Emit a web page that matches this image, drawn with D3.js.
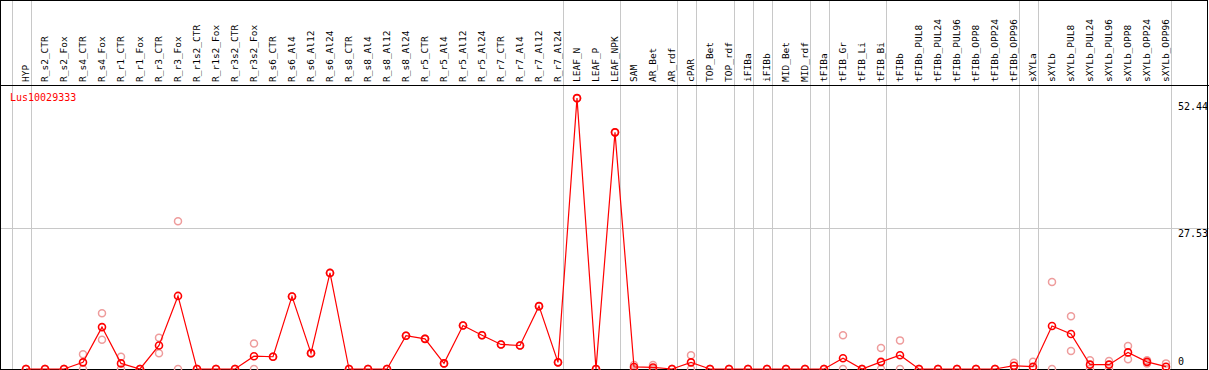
<!DOCTYPE html>
<html>
<head>
  <meta charset="utf-8">
  <title>Lus10029333</title>
  <style>
    body { margin: 0; background: #fff; }
    text { font-family: "DejaVu Sans Mono", monospace; }
  </style>
</head>
<body>

  <script src="https://cdn.jsdelivr.net/npm/d3@7"></script>
  <script type="text/javascript">

  var gene = 'Lus10029333';

  var samples = [
    'HYP',
    'R_s2_CTR', 'R_s2_Fox', 'R_s4_CTR', 'R_s4_Fox', 'R_r1_CTR', 'R_r1_Fox', 'R_r3_CTR', 'R_r3_Fox',
    'R_r1s2_CTR', 'R_r1s2_Fox', 'R_r3s2_CTR', 'R_r3s2_Fox',
    'R_s6_CTR', 'R_s6_Al4', 'R_s6_Al12', 'R_s6_Al24', 'R_s8_CTR', 'R_s8_Al4', 'R_s8_Al12', 'R_s8_Al24',
    'R_r5_CTR', 'R_r5_Al4', 'R_r5_Al12', 'R_r5_Al24', 'R_r7_CTR', 'R_r7_Al4', 'R_r7_Al12', 'R_r7_Al24',
    'LEAF_N', 'LEAF_P', 'LEAF_NPK',
    'SAM', 'AR_Bet', 'AR_rdf',
    'cPAR',
    'TOP_Bet', 'TOP_rdf',
    'iFIBa',
    'iFIBb',
    'MID_Bet', 'MID_rdf',
    'tFIBa',
    'tFIB_Gr', 'tFIB_Li', 'tFIB_Bi',
    'tFIBb', 'tFIBb_PUL8', 'tFIBb_PUL24', 'tFIBb_PUL96', 'tFIBb_OPP8', 'tFIBb_OPP24', 'tFIBb_OPP96',
    'sXYLa',
    'sXYLb', 'sXYLb_PUL8', 'sXYLb_PUL24', 'sXYLb_PUL96', 'sXYLb_OPP8', 'sXYLb_OPP24', 'sXYLb_OPP96'
  ];

  // how many samples sit in each block between the grey separators
  var groupSizes = [1, 28, 3, 3, 1, 2, 1, 1, 2, 1, 3, 7, 1, 7];

  var means = [
    0,
    0, 0, 1.3, 8.2, 1.1, 0, 4.6, 14.3,
    0, 0, 0, 2.5,
    2.4, 14.2, 3.1, 18.8, 0, 0, 0, 6.5,
    5.9, 1.1, 8.5, 6.6, 4.8, 4.6, 12.3, 1.3,
    53.0, 0, 46.3,
    0.4, 0.3, 0,
    1.3,
    0, 0,
    0,
    0,
    0, 0,
    0,
    2.1, 0, 1.4,
    2.7, 0, 0, 0, 0, 0, 0.65,
    0.45,
    8.4, 6.85, 0.85, 0.85, 3.25, 1.4, 0.45
  ];

  var repHigh = [
    0,
    0, 0, 2.9, 10.9, 2.4, 0, 6.1, 28.9,
    0, 0, 0, 5.0,
    2.4, 14.2, 3.1, 18.8, 0, 0, 0, 6.5,
    5.9, 1.1, 8.5, 6.6, 4.8, 4.6, 12.3, 1.3,
    53.0, 0, 46.3,
    0.8, 0.8, 0,
    2.7,
    0, 0,
    0,
    0,
    0, 0,
    0,
    6.6, 0, 4.1,
    5.6, 0, 0, 0, 0, 0, 1.2,
    1.4,
    17.0, 10.3, 1.7, 1.55, 4.5, 1.7, 1.1
  ];

  var repLow = [
    0,
    0, 0, 0, 5.7, 0, 0, 3.1, 0,
    0, 0, 0, 0,
    2.4, 14.2, 3.1, 18.8, 0, 0, 0, 6.5,
    5.9, 1.1, 8.5, 6.6, 4.8, 4.6, 12.3, 1.3,
    53.0, 0, 46.3,
    0, 0, 0,
    0,
    0, 0,
    0,
    0,
    0, 0,
    0,
    0, 0, 0,
    0, 0, 0, 0, 0, 0, 0,
    0,
    0, 3.5, 0, 0, 1.9, 1.1, 0
  ];

  var yTicks = [0, 27.53, 52.44];
  var yGrid  = [27.53];

  var width = 1209,
      height = 370,
      headerBottom = 85,
      plotBottom = 369,
      red = '#ff0000',
      pink = '#ee9c9c',
      grey = '#c8c8c8',

      svg = d3.select('body')
              .append('svg')
              .attr('width', width)
              .attr('height', height),

      x = d3.scalePoint()
            .domain(samples)
            .range([26, 26 + 19 * (samples.length - 1)]),

      step = x.step(),

      y = d3.scaleLinear()
            .domain([0, 55.06])
            .range([plotBottom, 87.6]);

  // grey separators between sample groups
  var ends = [-1];
  groupSizes.reduce(function(acc, n){ ends.push(acc + n - 1); return acc + n; }, 0);

  svg.selectAll('line.sep')
     .data(ends)
     .enter()
     .append('line')
     .attr('class', 'sep')
     .attr('x1', function(k){ return Math.round(26 + step * k + 4.7) + 0.5; })
     .attr('x2', function(k){ return Math.round(26 + step * k + 4.7) + 0.5; })
     .attr('y1', 0)
     .attr('y2', plotBottom)
     .attr('stroke', grey);

  svg.selectAll('line.hgrid')
     .data(yGrid)
     .enter()
     .append('line')
     .attr('class', 'hgrid')
     .attr('x1', 0)
     .attr('x2', width)
     .attr('y1', function(d){ return Math.round(y(d)) + 0.5; })
     .attr('y2', function(d){ return Math.round(y(d)) + 0.5; })
     .attr('stroke', grey);

  // frame
  svg.append('rect')
     .attr('x', 0.5).attr('y', 0.5)
     .attr('width', width - 2).attr('height', plotBottom)
     .attr('fill', 'none')
     .attr('stroke', '#000');

  svg.append('line')
     .attr('x1', 0).attr('x2', width)
     .attr('y1', headerBottom + 0.5).attr('y2', headerBottom + 0.5)
     .attr('stroke', '#000');

  // sample labels, vertical
  svg.selectAll('text.sample')
     .data(samples)
     .enter()
     .append('text')
     .attr('class', 'sample')
     .attr('transform', function(d){ return 'translate(' + x(d) + ',' + (headerBottom - 3) + ') rotate(-90)'; })
     .attr('dy', '0.35em')
     .attr('font-size', '9.5px')
     .attr('fill', '#000')
     .text(function(d){ return d; });

  svg.append('text')
     .attr('x', 10)
     .attr('y', 101)
     .attr('font-size', '10px')
     .attr('fill', red)
     .text(gene);

  // value labels on the right
  svg.selectAll('text.ytick')
     .data(yTicks)
     .enter()
     .append('text')
     .attr('class', 'ytick')
     .attr('x', 1178)
     .attr('y', function(d){ return d === 0 ? y(d) - 4 : y(d) + 9; })
     .attr('font-size', '10px')
     .attr('fill', '#000')
     .text(function(d){ return d; });

  // replicates
  var reps = [];
  samples.forEach(function(s, i){
    reps.push({ s: s, v: repHigh[i] });
    reps.push({ s: s, v: repLow[i] });
  });

  svg.selectAll('circle.rep')
     .data(reps)
     .enter()
     .append('circle')
     .attr('class', 'rep')
     .attr('cx', function(d){ return x(d.s); })
     .attr('cy', function(d){ return y(d.v); })
     .attr('r', 3.5)
     .attr('fill', 'none')
     .attr('stroke', pink)
     .attr('stroke-width', 1.5);

  var pts = samples.map(function(s, i){ return { s: s, v: means[i] }; });

  svg.append('path')
     .datum(pts)
     .attr('fill', 'none')
     .attr('stroke', red)
     .attr('stroke-width', 1.2)
     .attr('d', d3.line()
                  .x(function(d){ return x(d.s); })
                  .y(function(d){ return y(d.v); }));

  svg.selectAll('circle.mean')
     .data(pts)
     .enter()
     .append('circle')
     .attr('class', 'mean')
     .attr('cx', function(d){ return x(d.s); })
     .attr('cy', function(d){ return y(d.v); })
     .attr('r', 3.5)
     .attr('fill', 'none')
     .attr('stroke', red)
     .attr('stroke-width', 1.6);

  </script>
</body>
</html>
